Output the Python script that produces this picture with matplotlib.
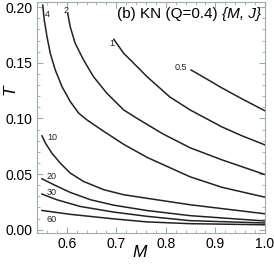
import matplotlib
matplotlib.use("Agg")
import matplotlib.pyplot as plt
from matplotlib.ticker import MultipleLocator

plt.rcParams['font.family'] = ['Liberation Sans', 'DejaVu Sans']

# contour levels and the curves (M, T)
levels = ['0.5', '1', '2', '4', '10', '20', '30', '60']

c05_M = [0.851, 0.879, 0.913, 0.954, 1.0]
c05_T = [0.1435, 0.1363, 0.1274, 0.1175, 0.1068]

c1_M = [0.695, 0.715, 0.742, 0.762, 0.808, 0.849, 0.913, 0.954, 1.0]
c1_T = [0.1711, 0.1585, 0.1465, 0.1375, 0.1193, 0.1076, 0.0924, 0.0843, 0.0762]

c2_M = [0.602, 0.607, 0.617, 0.634, 0.654, 0.681, 0.715, 0.742, 0.794, 0.849, 0.913, 1.0]
c2_T = [0.1944, 0.1824, 0.1675, 0.1525, 0.1375, 0.1226, 0.1076, 0.1000, 0.0861, 0.0736, 0.0628, 0.0495]

c4_M = [0.5515, 0.5547, 0.5602, 0.5668, 0.5769, 0.5905, 0.6072, 0.6242, 0.6407, 0.6746,
        0.715, 0.762, 0.849, 0.913, 1.0]
c4_T = [0.2018, 0.1884, 0.1734, 0.1585, 0.1435, 0.1285, 0.1151, 0.1047, 0.0987, 0.0884,
        0.0767, 0.0650, 0.0475, 0.0381, 0.0292]

c10_M = [0.550, 0.557, 0.570, 0.587, 0.607, 0.634, 0.675, 0.715, 0.762, 0.849, 1.0]
c10_T = [0.0843, 0.0778, 0.0688, 0.0598, 0.0509, 0.0433, 0.0359, 0.0314, 0.0282, 0.0224, 0.0143]

c20_M = [0.550, 0.574, 0.607, 0.648, 0.695, 0.762, 0.849, 1.0]
c20_T = [0.0457, 0.0404, 0.0335, 0.0269, 0.0220, 0.0172, 0.0126, 0.0078]

c30_M = [0.550, 0.580, 0.627, 0.695, 0.762, 0.849, 1.0]
c30_T = [0.0320, 0.0269, 0.0209, 0.0158, 0.0120, 0.0081, 0.0060]

c60_M = [0.550, 0.607, 0.695, 0.762, 0.849, 1.0]
c60_T = [0.0173, 0.0138, 0.0097, 0.0070, 0.0054, 0.0044]

curves = [(c05_M, c05_T), (c1_M, c1_T), (c2_M, c2_T), (c4_M, c4_T),
          (c10_M, c10_T), (c20_M, c20_T), (c30_M, c30_T), (c60_M, c60_T)]

# label offsets (pixels) from the start of each curve
label_off = [(-10, 3), (-2, -4), (-2, 3), (5, -9), (10, -2), (10, 2), (10, 2), (10, -9)]

fig = plt.figure(figsize=(2.74, 2.66), dpi=100)
ax = fig.add_axes([0.135, 0.124, 0.832, 0.868])

for lev, (m, t), off in zip(levels, curves, label_off):
    ax.plot(m, t, color='#222222', lw=1.1, solid_joinstyle='round')
    ax.annotate(lev, xy=(m[0], t[0]), xytext=off, textcoords='offset pixels',
                ha='center', va='center', fontsize=6.5, color='#222222')

ax.set_xlim(0.54, 1.0)
ax.set_ylim(-0.003, 0.2045)

ax.xaxis.set_major_locator(MultipleLocator(0.1))
ax.xaxis.set_minor_locator(MultipleLocator(0.02))
ax.yaxis.set_major_locator(MultipleLocator(0.05))
ax.yaxis.set_minor_locator(MultipleLocator(0.01))
ax.xaxis.set_major_formatter(plt.FuncFormatter(lambda v, _: f'{v:.1f}'))
ax.yaxis.set_major_formatter(plt.FuncFormatter(lambda v, _: f'{v:.2f}'))

gray = '#a0a8b0'
for s in ax.spines.values():
    s.set_color(gray)
    s.set_linewidth(0.8)
ax.tick_params(which='both', direction='in', top=True, right=True, color=gray,
               labelsize=10, labelcolor='black', pad=3)
ax.tick_params(which='major', length=4, width=0.8)
ax.tick_params(which='minor', length=2, width=0.6)

ax.set_xlabel('M', style='italic', fontsize=12.5)
ax.xaxis.set_label_coords(0.452, -0.085)
ax.xaxis.label.set_va('center')
ax.set_ylabel('T', style='italic', fontsize=12.5, rotation=90)
ax.yaxis.set_label_coords(-0.12, 0.619)
ax.yaxis.label.set_va('center')

t2 = ax.text(0.982, 0.948, '{M, J}', transform=ax.transAxes, ha='right', va='center',
             fontsize=11, style='italic')
ax.annotate('(b) KN (Q=0.4)', xy=(0, 0), xycoords=t2, xytext=(-3, 0),
            textcoords='offset points', ha='right', va='bottom', fontsize=11)

fig.savefig('out.png', dpi=100)
